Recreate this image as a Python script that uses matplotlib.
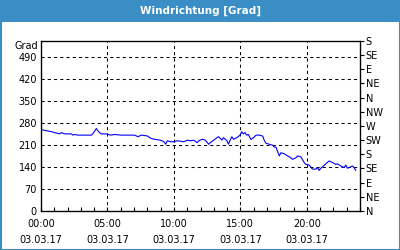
import numpy as np
import matplotlib
matplotlib.use("Agg")
import matplotlib.pyplot as plt
from matplotlib.patches import Rectangle

# wind direction readings (hours since 00:00, degrees)
hours = [0.0, 0.28, 0.78, 1.03, 1.4, 1.53, 1.78, 2.28, 2.4, 2.5, 2.78, 3.78, 3.9,
         4.16, 4.33, 4.53, 4.9, 5.04, 5.29, 5.54, 6.04, 7.04, 7.3, 7.54, 7.92,
         8.01, 8.26, 8.51, 9.0, 9.25, 9.38, 9.5, 9.75, 10.0, 10.25, 10.75, 11.0,
         11.25, 11.5, 11.75, 11.87, 12.12, 12.37, 12.61, 12.74, 12.99, 13.24,
         13.36, 13.49, 13.61, 13.73, 13.99, 14.1, 14.23, 14.36, 14.48, 14.73,
         14.98, 15.1, 15.22, 15.35, 15.47, 15.6, 15.8, 16.05, 16.18, 16.43,
         16.68, 16.8, 16.93, 17.18, 17.43, 17.55, 17.68, 17.93, 18.05, 18.3,
         18.55, 18.8, 18.92, 19.18, 19.3, 19.55, 19.8, 19.93, 20.18, 20.42,
         20.68, 20.8, 20.93, 21.05, 21.17, 21.43, 21.68, 21.93, 22.18, 22.3,
         22.55, 22.8, 22.93, 23.05, 23.18, 23.43, 23.55, 23.68]
degrees = [259, 256, 252, 249, 245, 249, 245, 245, 241, 243, 241, 241, 245,
           262, 252, 245, 245, 243, 241, 243, 241, 241, 236, 241, 239,
           238, 231, 228, 225, 220, 212, 223, 220, 220, 223, 220, 225,
           223, 225, 217, 223, 228, 225, 212, 217, 225, 233,
           236, 231, 225, 233, 223, 212, 225, 236, 228, 233,
           241, 252, 245, 249, 241, 243, 227, 235, 241, 241,
           238, 224, 215, 212, 209, 203, 203, 175, 185, 182,
           175, 169, 164, 169, 175, 172, 154, 148, 146, 133,
           133, 138, 129, 136, 140, 150, 159, 154, 148, 150,
           143, 138, 146, 136, 138, 143, 138, 129]

left_ticks = [0, 70, 140, 210, 280, 350, 420, 490]
right_ticks = [0, 45, 90, 135, 180, 225, 270, 315, 360, 405, 450, 495, 540]
right_labels = ["N", "NE", "E", "SE", "S", "SW", "W", "NW", "N", "NE", "E", "SE", "S"]
x_ticks = [0, 5, 10, 15, 20]
x_labels = ["00:00\n03.03.17", "05:00\n03.03.17", "10:00\n03.03.17",
            "15:00\n03.03.17", "20:00\n03.03.17"]

frame_blue = "#3a8dc5"
fs = 7

fig = plt.figure(figsize=(4, 2.5), dpi=100)
fig.patch.set_facecolor("white")

# window frame: title bar + thin border
fig.patches.append(Rectangle((0, 1 - 22 / 250), 1, 22 / 250, transform=fig.transFigure,
                             facecolor=frame_blue, edgecolor="none", zorder=0))
fig.patches.append(Rectangle((0.5 / 400, 0.5 / 250), 399 / 400, 249 / 250,
                             transform=fig.transFigure, facecolor="none",
                             edgecolor=frame_blue, linewidth=1.5, zorder=0))
fig.text(0.5, 1 - 11 / 250, "Windrichtung [Grad]", color="white", fontsize=7.5,
         fontweight="bold", ha="center", va="center")

ax = fig.add_axes([41 / 400, 1 - 211 / 250, 319 / 400, 170 / 250])
ax.plot(hours, degrees, color="#0000ff", linewidth=0.8)
ax.set_xlim(0, 24)
ax.set_ylim(0, 540)

ax.set_yticks(left_ticks)
ax.tick_params(axis="y", length=0, labelsize=fs, pad=3)
ax.set_xticks(x_ticks)
ax.set_xticklabels(x_labels, linespacing=1.65)
ax.set_xticks(np.arange(0, 25, 1), minor=True)
ax.tick_params(axis="x", which="both", direction="in", length=3, width=0.8,
               labelsize=fs, pad=6)
ax.grid(True, color="black", linestyle=(0, (3, 3)), linewidth=0.75)
for s in ax.spines.values():
    s.set_linewidth(0.9)

ax.text(-0.01, 540, "Grad", transform=ax.get_yaxis_transform(), ha="right",
        va="top", fontsize=fs)

ax2 = ax.twinx()
ax2.set_ylim(0, 540)
ax2.set_yticks(right_ticks)
ax2.set_yticklabels(right_labels)
ax2.tick_params(axis="y", direction="out", length=3, width=0.8, labelsize=fs, pad=1)

fig.savefig("out.png", dpi=100)
